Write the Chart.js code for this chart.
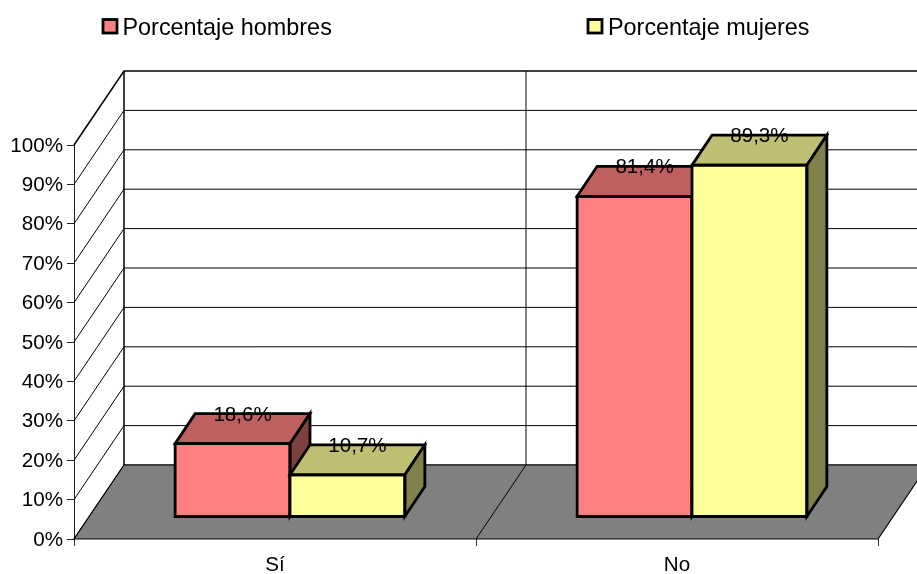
<!DOCTYPE html>
<html>
<head>
<meta charset="utf-8">
<title>Porcentaje hombres y mujeres</title>
<script src="https://cdn.jsdelivr.net/npm/chart.js@4/dist/chart.umd.min.js"></script>
<style>
  html, body { margin: 0; padding: 0; background: #fff; }
  canvas { display: block; }
</style>
</head>
<body>
<canvas id="chart" width="917" height="574"></canvas>
<script>
// =====================================================
// DATA
// =====================================================

const categories = ['Sí', 'No'];
const seriesNames = ['Porcentaje hombres', 'Porcentaje mujeres'];
const hombres = [18.6, 81.4];
const mujeres = [10.7, 89.3];
const yTicks = [0, 10, 20, 30, 40, 50, 60, 70, 80, 90, 100];

// =====================================================
// 3D LOOK
// =====================================================

const FONT = '"Liberation Sans", Arial, sans-serif';
const wallDepth = { x: 50, y: -74 };    // front axis to back wall
const barLift   = { x: 15, y: -22 };    // bars stand part way into the floor
const barDepth  = { x: 20, y: -30 };    // depth of one bar
const barLine   = 2.8;

const fills = [
  { front: '#FF8080', top: '#BF6060', side: '#804040' },
  { front: '#FFFF99', top: '#BFBF73', side: '#80804D' }
];

// legend is spread far apart, the built in one can't do that without growing tall
const legendSlots = [
  { box: 103, text: 122.5 },
  { box: 588, text: 608 }
];

function polygon(ctx, pts, fill) {
  ctx.beginPath();
  pts.forEach((p, i) => i ? ctx.lineTo(p[0], p[1]) : ctx.moveTo(p[0], p[1]));
  ctx.closePath();
  if (fill) {
    ctx.fillStyle = fill;
    ctx.fill();
  }
  ctx.stroke();
}

// walls, floor and the grid that runs over them
const roomPlugin = {
  id: 'room',
  beforeDatasetsDraw(chart) {
    const { ctx, chartArea: area, scales } = chart;
    const d = wallDepth;
    const zero = scales.y.getPixelForValue(0);
    const top = scales.y.getPixelForValue(100);

    ctx.save();
    ctx.strokeStyle = '#000';
    ctx.lineWidth = 1;

    // grid lines: up the side wall, then along the back wall
    yTicks.forEach(t => {
      const y = scales.y.getPixelForValue(t);
      ctx.lineWidth = t === 100 ? 1.5 : 1;
      ctx.beginPath();
      ctx.moveTo(area.left, y);
      ctx.lineTo(area.left + d.x, y + d.y);
      ctx.lineTo(area.right + d.x, y + d.y);
      ctx.stroke();
    });

    // corner of the two walls
    ctx.lineWidth = 1.5;
    ctx.beginPath();
    ctx.moveTo(area.left + d.x, top + d.y);
    ctx.lineTo(area.left + d.x, zero + d.y);
    ctx.stroke();

    // floor
    ctx.lineWidth = 1.2;
    polygon(ctx, [
      [area.left, zero],
      [area.right, zero],
      [area.right + d.x, zero + d.y],
      [area.left + d.x, zero + d.y]
    ], '#808080');

    // divider between the two categories
    const mid = (area.left + area.right) / 2;
    ctx.lineWidth = 1;
    ctx.beginPath();
    ctx.moveTo(mid, zero);
    ctx.lineTo(mid + d.x, zero + d.y);
    ctx.lineTo(mid + d.x, top + d.y);
    ctx.stroke();
    ctx.restore();
  }
};

// library paints the right bar first, here mujeres has to overlap hombres,
// so the normal pass is skipped and the bars are painted left to right
const boxPlugin = {
  id: 'box',
  beforeDatasetDraw() {
    return false;
  },
  afterDatasetsDraw(chart) {
    const { ctx } = chart;
    const d = barDepth;

    ctx.save();
    ctx.translate(barLift.x, barLift.y);
    ctx.strokeStyle = '#000';
    ctx.lineWidth = barLine;
    ctx.lineJoin = 'miter';

    chart.data.datasets.forEach((ds, i) => {
      const meta = chart.getDatasetMeta(i);
      const f = fills[i];
      meta.controller.draw();   // front face

      meta.data.forEach(bar => {
        const l = bar.x - bar.width / 2;
        const r = bar.x + bar.width / 2;
        const t = bar.y;
        const b = bar.base;
        polygon(ctx, [[l, t], [r, t], [r + d.x, t + d.y], [l + d.x, t + d.y]], f.top);
        polygon(ctx, [[r, t], [r + d.x, t + d.y], [r + d.x, b + d.y], [r, b]], f.side);
        polygon(ctx, [[l, t], [r, t], [r, b], [l, b]]);
      });
    });
    ctx.restore();

    // value labels sit on the back edge of each top face
    ctx.save();
    ctx.fillStyle = '#000';
    ctx.font = '20.6px ' + FONT;
    ctx.textAlign = 'center';
    ctx.textBaseline = 'alphabetic';
    chart.data.datasets.forEach((ds, i) => {
      chart.getDatasetMeta(i).data.forEach((bar, j) => {
        const label = ds.data[j].toFixed(1).replace('.', ',') + '%';
        ctx.fillText(label,
          bar.x + barLift.x + barDepth.x / 2,
          bar.y + barLift.y + barDepth.y + 7);
      });
    });
    ctx.restore();
  }
};

const legendPlugin = {
  id: 'legendRow',
  afterDraw(chart) {
    const { ctx } = chart;
    ctx.save();
    ctx.font = '23.4px ' + FONT;
    ctx.textBaseline = 'alphabetic';
    ctx.lineWidth = barLine;
    ctx.strokeStyle = '#000';
    chart.data.datasets.forEach((ds, i) => {
      const slot = legendSlots[i];
      ctx.fillStyle = ds.backgroundColor;
      ctx.fillRect(slot.box, 19.5, 14, 13.5);
      ctx.strokeRect(slot.box, 19.5, 14, 13.5);
      ctx.fillStyle = '#000';
      ctx.fillText(ds.label, slot.text, 35);
    });
    ctx.restore();
  }
};

// =====================================================
// CHART
// =====================================================

new Chart(document.getElementById('chart'), {
  type: 'bar',
  data: {
    labels: categories,
    datasets: [
      { label: seriesNames[0], data: hombres, backgroundColor: fills[0].front },
      { label: seriesNames[1], data: mujeres, backgroundColor: fills[1].front }
    ]
  },
  plugins: [roomPlugin, boxPlugin, legendPlugin],
  options: {
    responsive: false,
    animation: false,
    layout: { padding: { top: 145, right: 39 } },
    datasets: {
      bar: { barPercentage: 1, categoryPercentage: 2 / 3.5, borderWidth: 0 }
    },
    plugins: {
      legend: { display: false },
      tooltip: { enabled: false }
    },
    scales: {
      x: {
        grid: { drawOnChartArea: false, tickLength: 7, color: '#333' },
        border: { display: false },
        ticks: {
          color: '#000',
          padding: 7,
          maxRotation: 0,
          font: { family: FONT, size: 20.6 }
        },
        afterFit: s => { s.height = 35; }
      },
      y: {
        min: 0,
        max: 100,
        afterBuildTicks: s => { s.ticks = yTicks.map(value => ({ value })); },
        grid: { drawOnChartArea: false, tickLength: 7, color: '#222' },
        border: { color: '#222', width: 1 },
        ticks: {
          color: '#000',
          padding: 4,
          labelOffset: 1,
          callback: v => v + '%',
          font: { family: FONT, size: 20.6 }
        },
        afterFit: s => { s.width = 74; }
      }
    }
  }
});
</script>
</body>
</html>
